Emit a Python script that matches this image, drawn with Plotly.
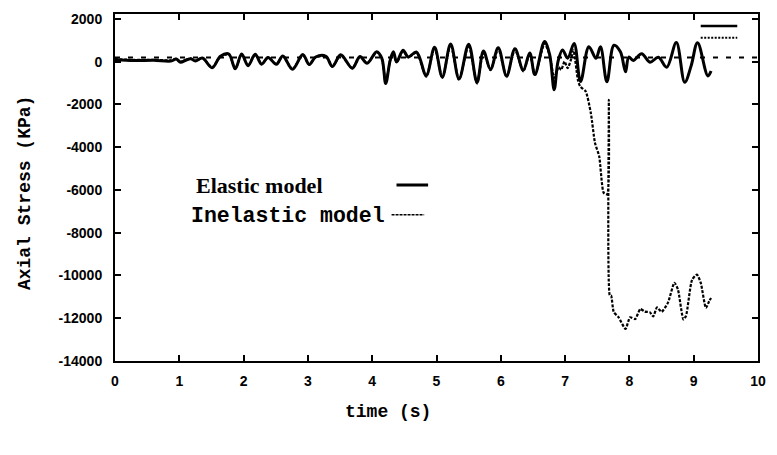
import plotly.graph_objects as go

# ---------------- data ----------------
elastic_t = [0.00, 0.30, 0.60, 0.87, 0.95, 1.02, 1.10, 1.18, 1.25, 1.36, 1.51, 1.64, 1.77,
             1.87, 1.97, 2.07, 2.18, 2.28, 2.38, 2.51, 2.61, 2.76, 2.92, 3.02, 3.12, 3.28,
             3.38, 3.51, 3.69, 3.81, 3.92, 4.07, 4.15, 4.21, 4.28, 4.33, 4.38, 4.48, 4.56,
             4.69, 4.84, 4.97, 5.09, 5.22, 5.35, 5.50, 5.63, 5.73, 5.84, 5.96, 6.09, 6.22,
             6.35, 6.45, 6.53, 6.68, 6.76, 6.83, 6.89, 6.96, 7.04, 7.14, 7.24, 7.37, 7.48,
             7.55, 7.65, 7.76, 7.86, 7.94, 7.99, 8.06, 8.19, 8.32, 8.45, 8.58, 8.73, 8.86,
             8.96, 9.06, 9.22, 9.27]
elastic_v = [90, 50, 65, 30, 120, -25, 65, 140, 30, 170, -285, 250, 360,
             -335, 355, -190, 350, -115, 195, -120, 270, -355, 330, -130, 220, 255,
             -220, 320, -305, 240, -75, 465, 155, -1020, 70, 460, -10, 535, 225,
             450, -645, 675, -720, 830, -805, 820, -970, 505, -355, 650, -670, 605,
             -405, 410, -600, 945, 325, -1310, 10, 550, 165, 855, -930, 700, 155,
             695, -940, 770, 460, -475, 215, 60, 370, -25, 205, -260, 895, -965,
             -195, 890, -665, -435]

inelastic_t = [0.00, 0.30, 0.60, 0.87, 0.95, 1.02, 1.10, 1.18, 1.25, 1.36, 1.51, 1.64, 1.77,
               1.87, 1.97, 2.07, 2.18, 2.28, 2.38, 2.51, 2.61, 2.76, 2.92, 3.02, 3.12, 3.28,
               3.38, 3.51, 3.69, 3.81, 3.92, 4.07, 4.15, 4.21, 4.28, 4.33, 4.38, 4.48, 4.56,
               4.69, 4.84, 4.97, 5.09, 5.22, 5.35, 5.50, 5.63, 5.73, 5.84, 5.96, 6.09, 6.22,
               6.35, 6.45, 6.53, 6.68, 6.76, 6.83, 6.90, 6.94, 6.99, 7.04, 7.09, 7.13, 7.20,
               7.235, 7.32, 7.40, 7.465, 7.53, 7.60, 7.655, 7.68, 7.695, 7.715, 7.757, 7.83,
               7.94, 8.01, 8.09, 8.17, 8.24, 8.32, 8.37, 8.43, 8.50, 8.60, 8.70, 8.755, 8.84,
               8.88, 8.975, 9.05, 9.11, 9.19, 9.24, 9.27]
inelastic_v = [120, 80, 90, 60, 130, 0, 80, 150, 40, 170, -270, 240, 340,
               -320, 340, -180, 330, -110, 190, -120, 260, -350, 320, -140, 210, 240,
               -230, 300, -310, 230, -80, 440, 140, -980, 60, 430, -30, 510, 200,
               420, -700, 640, -760, 790, -850, 780, -1020, 470, -400, 610, -720, 570,
               -450, 380, -640, 850, 300, -760, -260, -380, 10, -305, 85, 535, -870,
               -1160, -1390, -2400, -3800, -4425, -6130, -6210, -1790, -10930, -10940, -11710, -11950,
               -12495, -11955, -12040, -11570, -11690, -11725, -11915, -11495, -11700, -11270, -10340, -10655, -12055,
               -11895, -10200, -9960, -10350, -11515, -11205, -11055]

reference_t = [0.0, 10.0]
reference_v = [200, 200]

x_ticks = [0, 1, 2, 3, 4, 5, 6, 7, 8, 9, 10]
y_ticks = [2000, 0, -2000, -4000, -6000, -8000, -10000, -12000, -14000]

# ---------------- figure ----------------
fig = go.Figure()
fig.add_trace(go.Scatter(x=reference_t, y=reference_v, mode="lines",
                         line=dict(color="black", width=2, dash="5px,8px"),
                         showlegend=False, hoverinfo="skip"))
fig.add_trace(go.Scatter(x=inelastic_t, y=inelastic_v, mode="lines", name="Inelastic model",
                         line=dict(color="black", width=2.2, dash="3px,1.5px",
                                   shape="spline", smoothing=0.6),
                         showlegend=False))
fig.add_trace(go.Scatter(x=elastic_t, y=elastic_v, mode="lines", name="Elastic model",
                         line=dict(color="black", width=3, shape="spline", smoothing=1.0),
                         showlegend=False))

tick_font = dict(family="Liberation Sans", size=14, color="black", weight="bold")
axis_common = dict(showline=True, linewidth=2, linecolor="black", mirror="ticks",
                   ticks="inside", ticklen=6, tickwidth=2, tickcolor="black",
                   showgrid=False, zeroline=False, tickfont=tick_font)

fig.update_xaxes(range=[0, 10], tickvals=x_ticks, ticktext=[str(v) for v in x_ticks],
                 ticklabelstandoff=6, **axis_common)
fig.update_yaxes(range=[-14000, 2230], tickvals=y_ticks, ticktext=[str(v) for v in y_ticks],
                 ticklabelstandoff=8, **axis_common)

# main legend (text then line sample)
fig.add_annotation(x=(195 - 115) / 651, y=(361 - 184) / 349, xref="paper", yref="paper",
                   text="Elastic model", showarrow=False, xanchor="left", yanchor="middle",
                   font=dict(family="Liberation Serif", size=22, color="black", weight="bold"))
fig.add_annotation(x=(190 - 115) / 651, y=(361 - 215) / 349, xref="paper", yref="paper",
                   text="Inelastic model", showarrow=False, xanchor="left", yanchor="middle",
                   font=dict(family="Liberation Mono", size=21.5, color="black", weight="bold"))
fig.add_shape(type="line", xref="paper", yref="paper",
              x0=(400 - 115) / 651, x1=(432 - 115) / 651,
              y0=(361 - 184) / 349, y1=(361 - 184) / 349,
              line=dict(color="black", width=3))
fig.add_shape(type="line", xref="paper", yref="paper",
              x0=(395 - 115) / 651, x1=(428 - 115) / 651,
              y0=(361 - 214) / 349, y1=(361 - 214) / 349,
              line=dict(color="black", width=1.5, dash="3px,1px"))

# small key marks in the top-right corner
fig.add_shape(type="line", xref="paper", yref="paper",
              x0=(708 - 115) / 651, x1=(745 - 115) / 651,
              y0=(361 - 24) / 349, y1=(361 - 24) / 349,
              line=dict(color="black", width=2.5))
fig.add_shape(type="line", xref="paper", yref="paper",
              x0=(708 - 115) / 651, x1=(745 - 115) / 651,
              y0=(361 - 36) / 349, y1=(361 - 36) / 349,
              line=dict(color="black", width=2, dash="2px,1.5px"))

# axis titles
fig.add_annotation(x=-(115 - 24) / 651, y=(361 - 192) / 349, xref="paper", yref="paper",
                   text="Axial Stress (KPa)", showarrow=False, textangle=-90,
                   xanchor="center", yanchor="middle",
                   font=dict(family="Liberation Mono", size=18, color="black", weight="bold"))
fig.add_annotation(x=(391 - 115) / 651, y=-(412 - 361) / 349, xref="paper", yref="paper",
                   text="time (s)", showarrow=False, xanchor="center", yanchor="middle",
                   font=dict(family="Liberation Mono", size=18, color="black", weight="bold"))

fig.update_layout(width=777, height=455, margin=dict(l=115, r=11, t=12, b=94),
                  plot_bgcolor="white", paper_bgcolor="white", showlegend=False)

fig.write_html("out.html")
